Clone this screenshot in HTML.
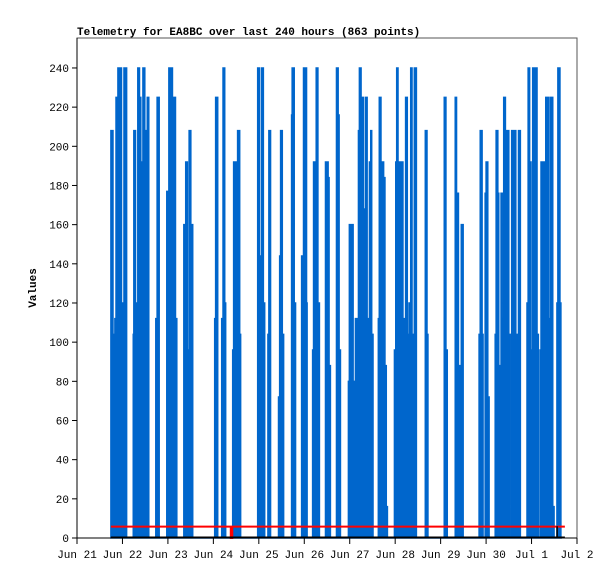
<!DOCTYPE html>
<html><head><meta charset="utf-8"><style>
html,body{margin:0;padding:0;background:#fff;}
svg{display:block;font-family:"Liberation Mono",monospace;}
</style></head><body>
<svg id="chart" width="615" height="579" viewBox="0 0 615 579" xmlns="http://www.w3.org/2000/svg">
<rect x="0" y="0" width="615" height="579" fill="#fff"/>
<text x="77" y="35" font-size="11" font-weight="bold" fill="#000">Telemetry for EA8BC over last 240 hours (863 points)</text>
<text transform="translate(36,288) rotate(-90)" text-anchor="middle" font-size="11" font-weight="bold">Values</text>
<g id="plot"></g>
</svg>
<script>
const xTickLabels=["Jun 21","Jun 22","Jun 23","Jun 24","Jun 25","Jun 26","Jun 27","Jun 28","Jun 29","Jun 30","Jul 1","Jul 2"];
const yTicks=[0,20,40,60,80,100,120,140,160,180,200,220,240];
const hours=[17.9,19.0,20.0,20.6,21.6,23.5,24.1,24.8,26.2,29.7,30.0,30.9,31.4,32.1,33.0,33.7,34.8,35.8,37.1,37.9,41.6,42.3,43.4,47.4,48.5,50.4,51.1,52.0,52.7,56.4,57.4,58.3,59.2,60.1,61.1,72.7,73.2,74.3,76.4,77.1,78.0,78.5,82.2,82.7,84.1,84.8,85.9,86.4,95.4,96.4,96.8,97.5,98.4,99.1,100.8,101.3,102.2,106.4,107.0,107.5,108.4,109.1,113.3,113.6,114.7,115.4,118.6,119.6,120.3,120.7,121.2,121.5,124.4,124.9,125.8,126.3,127.2,128.0,131.2,132.6,133.1,133.8,137.0,137.9,138.4,139.1,143.3,143.8,145.8,146.5,147.0,147.9,148.6,149.1,150.0,151.2,151.7,152.3,153.2,153.7,154.4,155.1,155.6,156.3,159.1,159.6,160.5,161.2,161.9,162.6,163.3,163.9,167.6,168.3,168.8,169.5,170.2,172.1,172.8,173.5,174.4,175.3,176.2,176.9,177.6,178.1,179.2,183.9,184.8,185.3,193.9,194.8,195.5,199.7,200.4,201.4,202.2,202.9,203.9,212.3,212.9,213.9,214.4,215.5,216.0,216.9,217.6,220.8,221.3,222.2,222.7,223.9,224.5,225.3,226.2,228.0,228.7,229.5,231.7,232.2,232.7,233.1,234.1,237.6,238.2,239.0,239.7,240.6,242.9,243.6,244.5,245.0,247.1,247.5,248.9,249.8,251.2,251.9,253.4,253.9,255.0,255.5];
const values=[208,104,112,225,240,120,0,240,0,104,208,104,120,240,225,192,240,208,225,0,112,225,0,177,240,120,225,112,0,160,192,96,208,160,0,112,225,0,112,240,120,0,96,192,104,208,104,0,240,0,144,240,120,0,104,208,0,72,144,208,104,0,216,240,120,0,144,240,104,240,120,0,96,192,120,240,120,0,192,184,88,0,240,216,96,0,80,160,80,0,112,104,208,240,225,112,168,225,112,96,192,208,104,0,112,225,112,192,184,88,16,0,96,192,240,120,192,0,112,225,104,120,240,104,80,240,0,208,104,0,225,96,0,225,176,88,0,160,0,104,208,104,0,176,192,72,0,104,208,176,88,176,112,225,208,104,0,208,104,0,104,208,0,120,240,192,96,240,104,0,96,192,112,225,112,225,16,0,120,240,120,0];
const refStart=17.9, refEnd=257.6, refValue=5.8, refDipHour=81.2;
const markerHour=253.5, markerValue=6;

const X0=77,X1=577,Y0=538,Y1=38,H_TOTAL=264,VMAX=255.3;
const xs=h=>X0+h/H_TOTAL*(X1-X0);
const ys=v=>Y0-v/VMAX*(Y0-Y1);
const NS="http://www.w3.org/2000/svg";
const g=document.getElementById('plot');
function mk(tag,attrs){const e=document.createElementNS(NS,tag);for(const k in attrs)e.setAttribute(k,attrs[k]);g.appendChild(e);return e;}

// series as step fill
let d="M"+xs(hours[0])+","+ys(0);
for(let i=0;i<hours.length;i++){
  const x=xs(hours[i]);
  const xn=i<hours.length-1?xs(hours[i+1]):x+1;
  d+=" L"+x+","+ys(values[i])+" L"+xn+","+ys(values[i]);
}
d+=" L"+xs(hours[hours.length-1])+","+ys(0)+" Z";
const s=mk('path',{d:d,fill:'#0066cc',stroke:'#0066cc','stroke-width':'1.5'});



// red reference line
const rd=`M${xs(refStart)},${ys(refValue)} L${xs(refDipHour)},${ys(refValue)} L${xs(refDipHour)},${ys(0)} L${xs(refDipHour)+1.5},${ys(0)} L${xs(refDipHour)+1.5},${ys(refValue)} L${xs(refEnd)},${ys(refValue)}`;
const r=mk('path',{d:rd,fill:'none',stroke:'#ff0000','stroke-width':'2'});



// black baseline series
const b=mk('line',{x1:xs(refStart),y1:ys(0)-0.5,x2:xs(refEnd),y2:ys(0)-0.5,stroke:'#000','stroke-width':'2'});


const bm=mk('line',{x1:xs(markerHour),y1:ys(0),x2:xs(markerHour),y2:ys(markerValue),stroke:'#000','stroke-width':'1.5'});



// frame
const f=mk('rect',{x:X0,y:Y1,width:X1-X0,height:Y0-Y1,fill:'none',stroke:'#555','stroke-width':'1'});


const ax=mk('line',{x1:X0,y1:Y0,x2:X1,y2:Y0,stroke:'#000','stroke-width':'1'});


const ay=mk('line',{x1:X0,y1:Y1,x2:X0,y2:Y0,stroke:'#000','stroke-width':'1'});



yTicks.forEach(v=>{
  const y=ys(v);
  const t=mk('line',{x1:X0-5,y1:y,x2:X0,y2:y,stroke:'#000'});
  
  
  const l=mk('text',{x:X0-8,y:y+4,'text-anchor':'end','font-size':'11'});
  l.textContent=v;
  
  
});
xTickLabels.forEach((lab,i)=>{
  const x=xs(i*24);
  const t=mk('line',{x1:x,y1:Y0,x2:x,y2:Y0+6,stroke:'#000'});
  
  
  const l=mk('text',{x:x,y:Y0+20,'text-anchor':'middle','font-size':'11'});
  l.textContent=lab;
  
  
});
</script>
</body></html>
